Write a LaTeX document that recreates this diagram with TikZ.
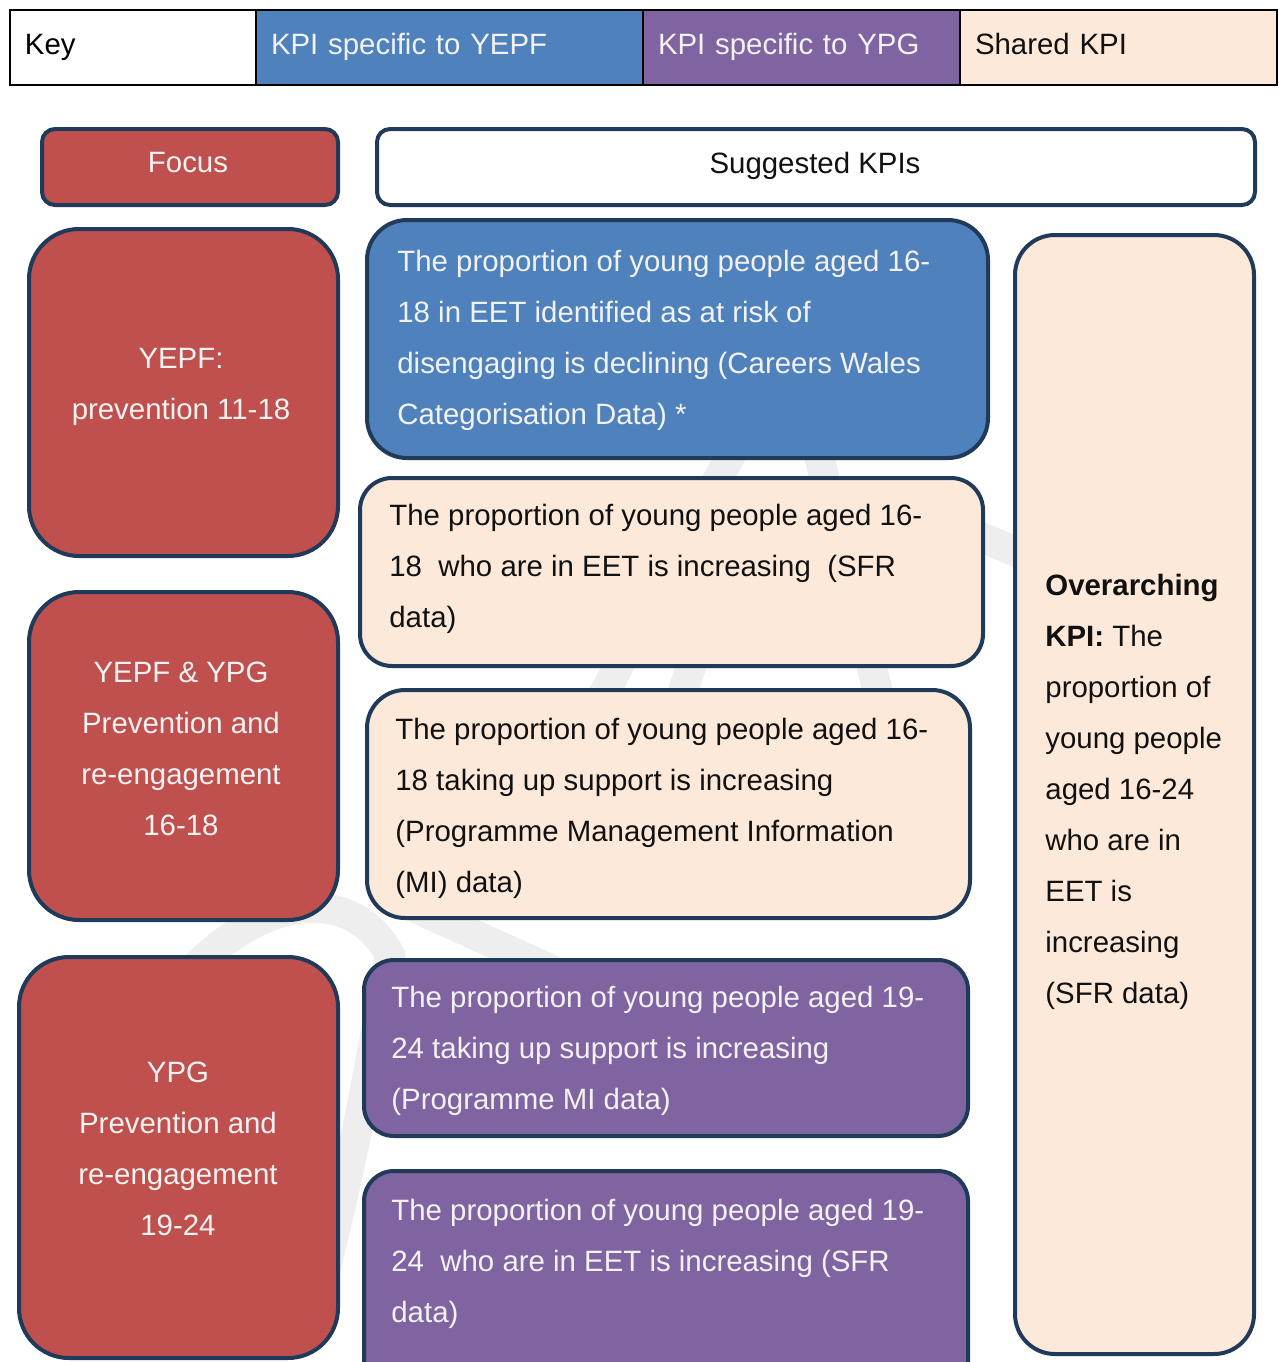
\documentclass[tikz,border=0pt]{standalone}
\usepackage{fontspec}
\setmainfont{Liberation Sans}
\definecolor{bordercol}{HTML}{203A5A}
\definecolor{redfill}{HTML}{C0504D}
\definecolor{bluefill}{HTML}{4F81BD}
\definecolor{purplefill}{HTML}{8064A2}
\definecolor{beigefill}{HTML}{FDE9D9}
\definecolor{lighttext}{HTML}{F2F2F2}
\definecolor{darktext}{HTML}{111111}
\definecolor{wmark}{HTML}{EEEEEE}
\begin{document}
\begin{tikzpicture}[x=0.5pt,y=-0.5pt,
  txt/.style={font=\fontsize{14.7}{25.5}\selectfont, inner sep=0pt},
  panel/.style={draw=bordercol, line width=2pt, inner sep=0pt},
  keycell/.style={draw=black, line width=1.2pt, minimum height=37.5pt, inner xsep=7.5pt, inner ysep=0pt, text height=10.6pt, text depth=4pt, align=left, font=\fontsize{14.7}{17}\selectfont},
  wm/.style={draw=wmark, line width=15pt, line cap=round}
]
\useasboundingbox (0,0) rectangle (1279,1362);
\clip (0,0) rectangle (1279,1362);
\fill[white] (0,0) rectangle (1279,1362);

% faint watermark
\draw[wm] (170,995) .. controls (250,895) and (350,880) .. (390,955) .. controls (372,1050) and (356,1150) .. (325,1270);
\draw[wm] (420,910) -- (640,1010);
\draw[wm] (760,400) -- (590,720);
\draw[wm] (805,400) -- (885,720);
\draw[wm] (700,640) -- (680,700);
\draw[wm] (940,520) -- (1060,570);

% key row
\node[keycell, fill=white, text width=108pt] (keyK) at (133,47.5) {Key};
\node[keycell, fill=bluefill, text=lighttext, text width=178.5pt] (keyY) at (449.5,47.5) {KPI specific to YEPF};
\node[keycell, fill=purplefill, text=lighttext, text width=143.5pt] (keyP) at (801.5,47.5) {KPI specific to YPG};
\node[keycell, fill=beigefill, text=darktext, text width=143.5pt] (keyS) at (1118.5,47.5) {Shared KPI};

% header panels
\node[panel, fill=redfill, rounded corners=6.5pt, minimum width=148pt, minimum height=38pt] (focusbox) at (190,167) {};
\node[txt, text=lighttext, anchor=north] (focustxt) at (188,151.5) {Focus};
\node[panel, fill=white, rounded corners=6.5pt, minimum width=439pt, minimum height=38pt] (kpibox) at (816,167) {};
\node[txt, text=darktext, anchor=north] (kpitxt) at (815,151.5) {Suggested KPIs};

% focus panels
\node[panel, fill=redfill, rounded corners=25pt, minimum width=154.5pt, minimum height=163.5pt] (red1) at (183.5,392.5) {};
\node[txt, text=lighttext, align=center, anchor=north] (red1txt) at (181,347.5) {YEPF:\\prevention 11-18};
\node[panel, fill=redfill, rounded corners=25pt, minimum width=154.5pt, minimum height=164pt] (red2) at (183.5,756) {};
\node[txt, text=lighttext, align=center, anchor=north] (red2txt) at (181,661.5) {YEPF \& YPG\\Prevention and\\re-engagement\\16-18};
\node[panel, fill=redfill, rounded corners=25pt, minimum width=159.5pt, minimum height=200.5pt] (red3) at (178.5,1157.5) {};
\node[txt, text=lighttext, align=center, anchor=north] (red3txt) at (178,1061.5) {YPG\\Prevention and\\re-engagement\\19-24};

% KPI panels
\node[panel, fill=bluefill, rounded corners=20pt, minimum width=310.5pt, minimum height=119pt] (blue1) at (677.5,339) {};
\node[txt, text=lighttext, align=left, anchor=north west] (blue1txt) at (397,249.5) {The proportion of young people aged 16-\\18 in EET identified as at risk of\\disengaging is declining (Careers Wales\\Categorisation Data) *};

\node[panel, fill=beigefill, rounded corners=16pt, minimum width=311.5pt, minimum height=94pt] (beige1) at (671.5,572) {};
\node[txt, text=darktext, align=left, anchor=north west] (beige1txt) at (389,503.5) {The proportion of young people aged 16-\\18\ \ who are in EET is increasing\ \ (SFR\\data)};

\node[panel, fill=beigefill, rounded corners=19pt, minimum width=301.5pt, minimum height=114pt] (beige2) at (668.5,804) {};
\node[txt, text=darktext, align=left, anchor=north west] (beige2txt) at (395,717.5) {The proportion of young people aged 16-\\18 taking up support is increasing\\(Programme Management Information\\(MI) data)};

\node[panel, fill=purplefill, rounded corners=15pt, minimum width=302pt, minimum height=88pt] (purple1) at (666,1048) {};
\node[txt, text=lighttext, align=left, anchor=north west] (purple1txt) at (391,985.5) {The proportion of young people aged 19-\\24 taking up support is increasing\\(Programme MI data)};

\node[panel, fill=purplefill, rounded corners=15pt, minimum width=302pt, minimum height=124.5pt] (purple2) at (666,1295.5) {};
\node[txt, text=lighttext, align=left, anchor=north west] (purple2txt) at (391,1198.5) {The proportion of young people aged 19-\\24\ \ who are in EET is increasing (SFR\\data)};

% overarching panel
\node[panel, fill=beigefill, rounded corners=20pt, minimum width=119.5pt, minimum height=559.5pt] (over) at (1134.5,794.5) {};
\node[txt, text=darktext, align=left, anchor=north west] (overtxt) at (1045,573.5) {\textbf{Overarching}\\\textbf{KPI:} The\\proportion of\\young people\\aged 16-24\\who are in\\EET is\\increasing\\(SFR data)};
\end{tikzpicture}
\end{document}
